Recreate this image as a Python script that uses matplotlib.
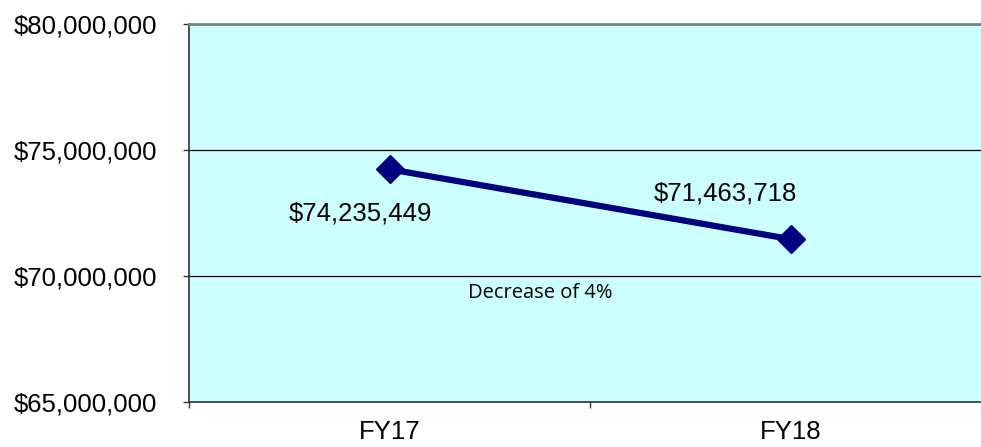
import matplotlib.pyplot as plt
from matplotlib.ticker import FuncFormatter

categories = ["FY17", "FY18"]
values = [74235449, 71463718]
value_labels = ["$74,235,449", "$71,463,718"]
note = "Decrease of 4%"

plt.rcParams['font.family'] = ['Liberation Sans', 'DejaVu Sans']

fig = plt.figure(figsize=(9.81, 4.47), dpi=100)
W, H = 981, 447
ax = fig.add_axes([189 / W, 1 - 402 / H, 802 / W, 378 / H])
ax.set_facecolor('#CCFFFF')

x = list(range(len(categories)))
ax.plot(x, values, color='#000080', lw=4.5, marker='D', ms=14,
        zorder=3, clip_on=False)

ax.set_xlim(-0.5, len(categories) - 0.5)
ax.set_ylim(65e6, 80e6)
ax.set_yticks([65e6, 70e6, 75e6, 80e6])
ax.yaxis.set_major_formatter(FuncFormatter(lambda v, p: f"${v:,.0f}"))
ax.grid(axis='y', color='black', lw=0.9)
ax.set_axisbelow(True)

ax.set_xticks(x)
ax.set_xticklabels(categories)
ax.set_xticks([i - 0.5 for i in range(len(categories) + 1)], minor=True)
ax.tick_params(axis='x', which='major', length=0, pad=13, labelsize=18.5)
ax.tick_params(axis='x', which='minor', length=4, width=1, color='#333333')
ax.tick_params(axis='y', length=4, width=1, labelsize=18.5, pad=19,
               color='#333333')

for s in ['left', 'bottom']:
    ax.spines[s].set_color('#333333')
    ax.spines[s].set_linewidth(1.2)
ax.spines['top'].set_color('#808080')
ax.spines['top'].set_linewidth(2)
ax.spines['right'].set_visible(False)

# data labels
ax.annotate(value_labels[0], (x[0], values[0]), xytext=(-21, -32),
            textcoords='offset points', ha='center', va='center', fontsize=18.5)
ax.annotate(value_labels[1], (x[1], values[1]), xytext=(-47, 33),
            textcoords='offset points', ha='center', va='center', fontsize=18.5)
ax.text(0.377, 69.33e6, note, ha='center', va='center', fontsize=14.5,
        family=['Open Sans', 'DejaVu Sans'])

fig.savefig('out.png', dpi=100)
